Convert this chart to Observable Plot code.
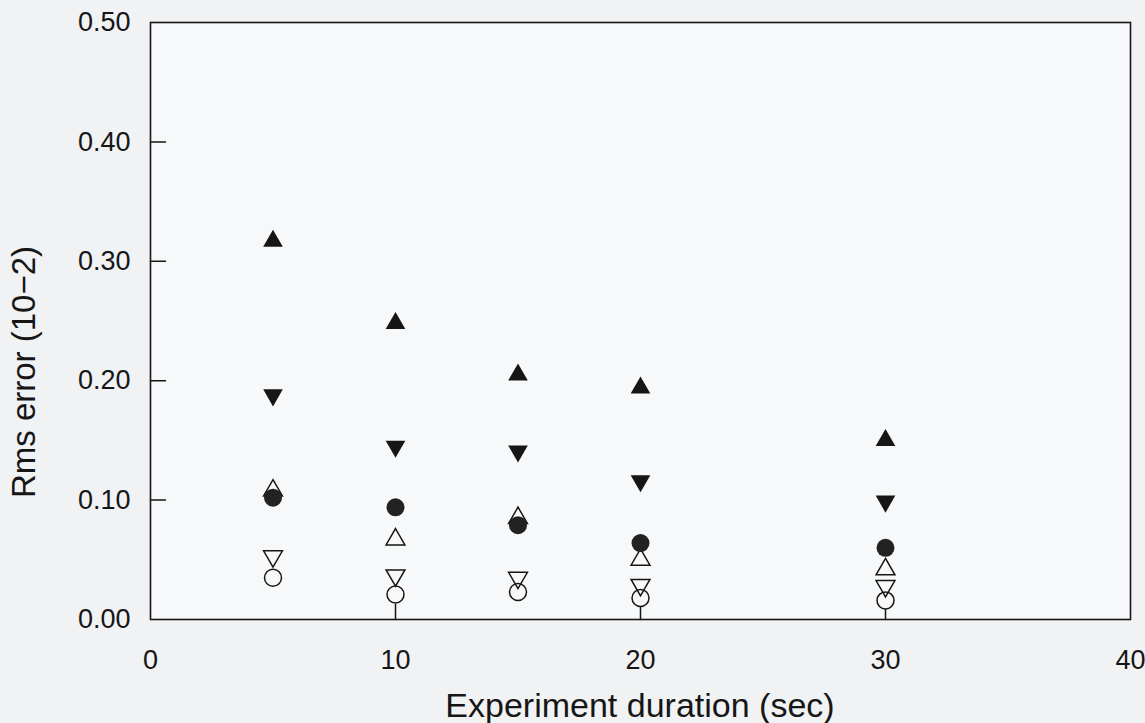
<!DOCTYPE html>
<html>
<head>
<meta charset="utf-8">
<script src="https://cdn.jsdelivr.net/npm/d3@7"></script>
<script src="https://cdn.jsdelivr.net/npm/@observablehq/plot@0.6"></script>
<style>
  html, body { margin: 0; padding: 0; background: #f1f2f4; }
  #chart { position: relative; width: 1145px; height: 723px; }
</style>
</head>
<body>
<div id="chart"></div>
<script>
// Experiment durations (sec) at which the rms error was evaluated
const durations = [5, 10, 15, 20, 30];

// Rms error (10^-2) for each estimation case
const filledUp     = [0.317, 0.248, 0.205, 0.194, 0.150];
const filledDown   = [0.188, 0.145, 0.141, 0.116, 0.099];
const filledCircle = [0.102, 0.094, 0.079, 0.064, 0.060];
const openUp       = [0.108, 0.067, 0.085, 0.050, 0.042];
const openDown     = [0.053, 0.037, 0.035, 0.029, 0.028];
const openCircle   = [0.035, 0.021, 0.023, 0.018, 0.016];

// Axis ticks
const xTicks = [0, 10, 20, 30, 40];
const yTicks = [0, 0.1, 0.2, 0.3, 0.4, 0.5];

const ink = "#161616";
const rows = values => durations.map((d, i) => ({duration: d, rms: values[i]}));

// Short inward tick drawn as a vector
const tickLine = {draw(context, l) { context.moveTo(0, 0); context.lineTo(0, -l); }};

const chart = Plot.plot({
  width: 1145,
  height: 723,
  marginLeft: 150,
  marginRight: 15,
  marginTop: 22,
  marginBottom: 104,
  style: {background: "transparent", fontFamily: "'Liberation Sans', Arial, sans-serif", fontSize: "27px", color: ink},
  x: {domain: [0, 40], ticks: xTicks, tickSize: 0, tickPadding: 30, label: null},
  y: {domain: [0, 0.5], ticks: yTicks, tickFormat: d3.format(".2f"), tickSize: 0, tickPadding: 20, label: null},
  marks: [
    Plot.frame({fill: "#f7f8f9"}),
    Plot.vector(yTicks.slice(1, -1), {x: 0, y: d => d, length: 15, rotate: 90, anchor: "start", shape: tickLine, stroke: ink, strokeWidth: 1.5}),
    Plot.vector(xTicks.slice(1, -1), {x: d => d, y: 0, length: 15, rotate: 0, anchor: "start", shape: tickLine, stroke: ink, strokeWidth: 1.5}),
    Plot.frame({stroke: ink, strokeWidth: 1.6}),
    Plot.dot(rows(openCircle), {x: "duration", y: "rms", symbol: "circle", r: 8.5, stroke: ink, strokeWidth: 1.5, fill: "#f7f8f9"}),
    Plot.dot(rows(openDown), {x: "duration", y: "rms", symbol: "triangle", r: 7, rotate: 180, stroke: ink, strokeWidth: 1.5, fill: "none"}),
    Plot.dot(rows(openUp), {x: "duration", y: "rms", symbol: "triangle", r: 7, stroke: ink, strokeWidth: 1.5, fill: "none"}),
    Plot.dot(rows(filledCircle), {x: "duration", y: "rms", symbol: "circle", r: 9, fill: "#222", stroke: "none"}),
    Plot.dot(rows(filledDown), {x: "duration", y: "rms", symbol: "triangle", r: 7.3, rotate: 180, fill: ink, stroke: "none"}),
    Plot.dot(rows(filledUp), {x: "duration", y: "rms", symbol: "triangle", r: 7.3, fill: ink, stroke: "none"})
  ]
});

document.getElementById("chart").appendChild(chart);

// Axis titles
const svg = d3.select(chart);
svg.append("text")
  .attr("x", 640).attr("y", 717)
  .attr("text-anchor", "middle")
  .attr("fill", ink)
  .style("font-size", "34px")
  .text("Experiment duration (sec)");
svg.append("text")
  .attr("transform", "translate(35,372) rotate(-90)")
  .attr("text-anchor", "middle")
  .attr("fill", ink)
  .style("font-size", "33px")
  .text("Rms error (10−2)");
</script>
</body>
</html>
